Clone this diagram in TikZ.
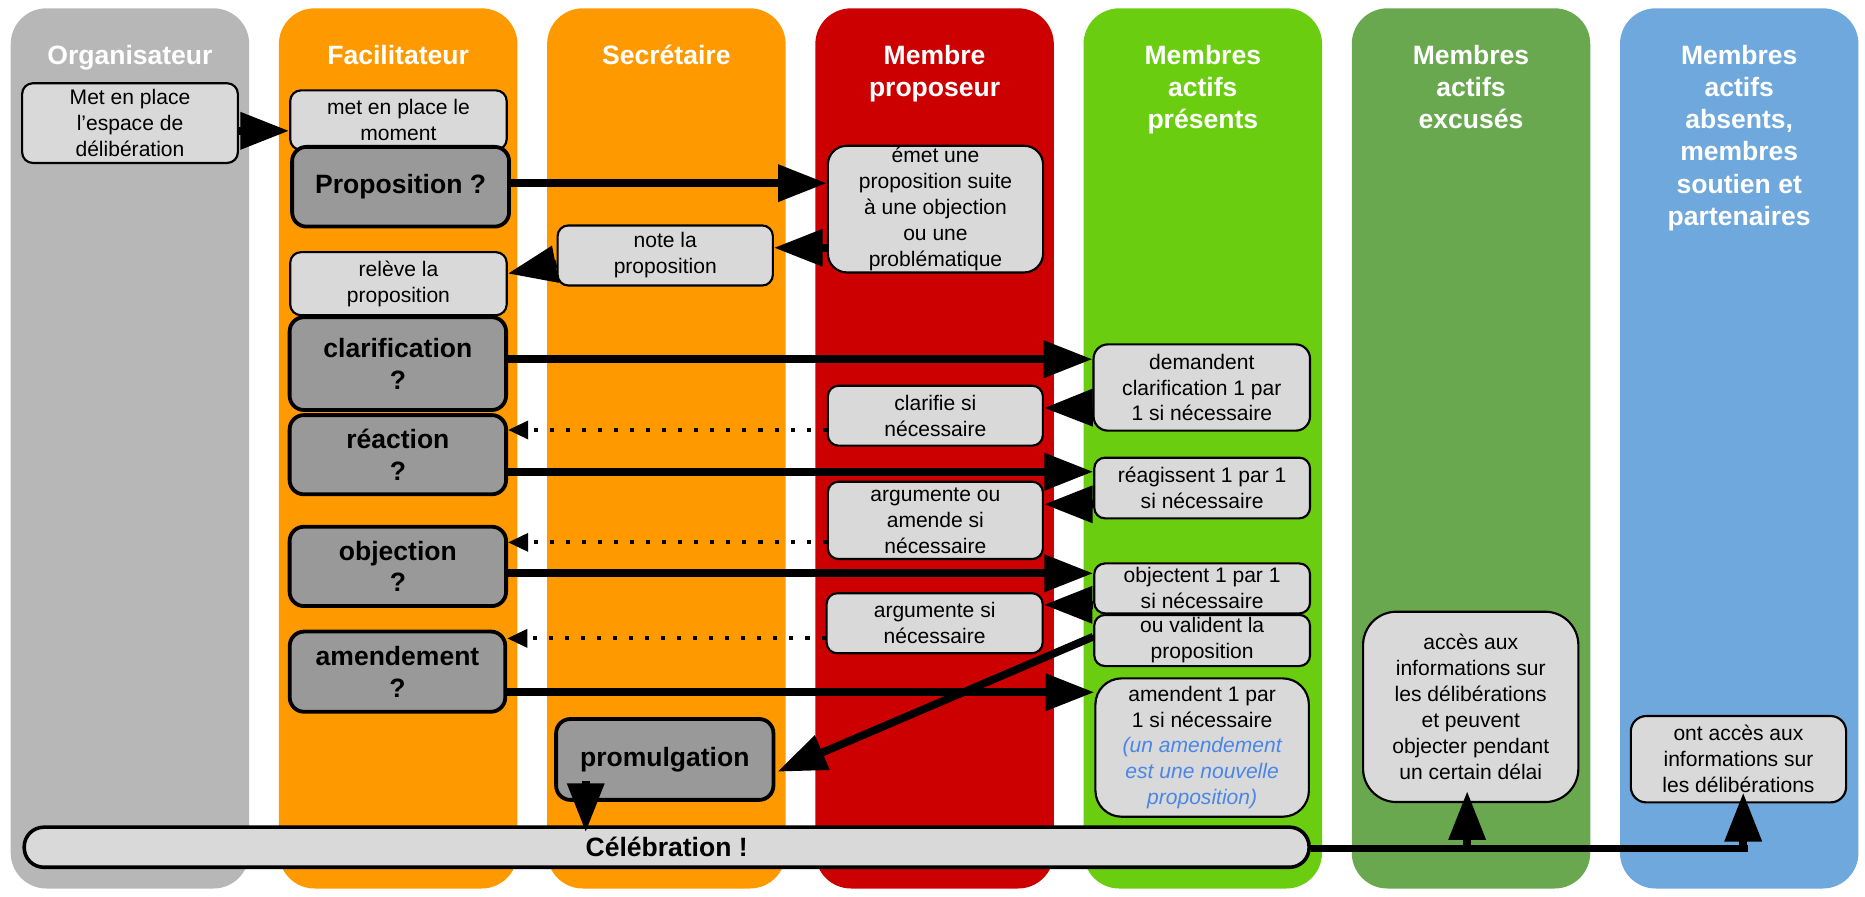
\documentclass[tikz,border=0pt]{standalone}
\usepackage{fontspec}
\setmainfont{Liberation Sans}
\usetikzlibrary{arrows.meta,calc}
\definecolor{cgray}{HTML}{B7B7B7}
\definecolor{corange}{HTML}{FF9900}
\definecolor{cred}{HTML}{CC0000}
\definecolor{cgreen}{HTML}{6ACD0F}
\definecolor{cdkgreen}{HTML}{6AA84F}
\definecolor{cblue}{HTML}{6FA8DC}
\definecolor{lightbox}{HTML}{D9D9D9}
\definecolor{darkbox}{HTML}{999999}
\definecolor{bluetxt}{HTML}{4A86E8}
\newcommand{\bluit}[1]{\textcolor{bluetxt}{\itshape #1}}
\begin{document}
\begin{tikzpicture}[x=1pt,y=-1pt,
  lane/.style={rounded corners=30pt, minimum width=200.5pt, minimum height=740pt, inner sep=0pt},
  title/.style={text=white, font=\bfseries\fontsize{22.3}{27}\selectfont, align=center, anchor=north, inner sep=0pt},
  box/.style={draw=black, line width=1.8pt, fill=lightbox, rounded corners=9pt, inner sep=0pt, align=center, font=\fontsize{17.7}{21.8}\selectfont},
  qbox/.style={box, fill=darkbox, line width=3.2pt, rounded corners=12pt, font=\bfseries\fontsize{22.3}{26.6}\selectfont},
  arr/.style={line width=6.5pt, -{Triangle[length=41pt,width=30pt]}},
  dotarr/.style={line width=3.4pt, dash pattern=on 3.4pt off 10.1pt, -{Triangle[length=17pt,width=15pt]}},
  thickline/.style={line width=6.5pt}
]
\useasboundingbox (0,0) rectangle (1568,754);
% lanes
\node[lane, fill=cgray]    (L1) at (109.25,377) {};
\node[lane, fill=corange]  (L2) at (334.75,377) {};
\node[lane, fill=corange]  (L3) at (560.25,377) {};
\node[lane, fill=cred]     (L4) at (785.75,377) {};
\node[lane, fill=cgreen]   (L5) at (1011.25,377) {};
\node[lane, fill=cdkgreen] (L6) at (1236.75,377) {};
\node[lane, fill=cblue]    (L7) at (1462.25,377) {};
% titles
\node[title] (T1) at (109.25,38) {Organisateur};
\node[title] (T2) at (334.75,38) {Facilitateur};
\node[title] (T3) at (560.25,38) {Secrétaire};
\node[title] (T4) at (785.75,38) {Membre\\proposeur};
\node[title] (T5) at (1011.25,38) {Membres\\actifs\\présents};
\node[title] (T6) at (1236.75,38) {Membres\\actifs\\excusés};
\node[title] (T7) at (1462.25,38) {Membres\\actifs\\absents,\\membres\\soutien et\\partenaires};
% boxes
\node[box, minimum width=181.4pt, minimum height=67pt] (met) at (109.3,103.5) {Met en place\\l’espace de\\délibération};
\node[box, minimum width=182pt, minimum height=50pt] (moment) at (335,101) {met en place le\\moment};
\node[qbox, minimum width=182.4pt, minimum height=67pt] (prop) at (336.8,157) {Proposition ?};
\node[box, minimum width=182pt, minimum height=53pt] (releve) at (335,238.5) {relève la\\proposition};
\node[qbox, minimum width=182pt, minimum height=78pt] (clar) at (334.5,305.7) {clarification\\?};
\node[qbox, minimum width=182pt, minimum height=66.6pt] (reac) at (334.5,382.3) {réaction\\?};
\node[qbox, minimum width=182pt, minimum height=66.7pt] (obj) at (334.5,476.2) {objection\\?};
\node[qbox, minimum width=181.2pt, minimum height=67.4pt] (amd) at (334.2,564.7) {amendement\\?};
\node[box, minimum width=181pt, minimum height=50.5pt] (note) at (559.3,214.8) {note la\\proposition};
\node[qbox, minimum width=182.7pt, minimum height=68pt] (promul) at (558.9,638.5) {promulgation};
\node[box, minimum width=181pt, minimum height=106.5pt, rounded corners=16pt] (emet) at (786.5,175.8) {émet une\\proposition suite\\à une objection\\ou une\\problématique};
\node[box, minimum width=180.8pt, minimum height=50.4pt] (clarifie) at (786.4,349.5) {clarifie si\\nécessaire};
\node[box, minimum width=180.8pt, minimum height=65pt] (argou) at (786.4,437.5) {argumente ou\\amende si\\nécessaire};
\node[box, minimum width=181.6pt, minimum height=50.5pt] (argsi) at (785.8,524) {argumente si\\nécessaire};
\node[box, minimum width=182pt, minimum height=72.5pt, rounded corners=12pt] (dem) at (1010.4,325.8) {demandent\\clarification 1 par\\1 si nécessaire};
\node[box, minimum width=181.4pt, minimum height=51pt] (reag) at (1010.7,410.3) {réagissent 1 par 1\\si nécessaire};
\node[box, minimum width=181.4pt, minimum height=42pt] (objt) at (1010.7,494.7) {objectent 1 par 1\\si nécessaire};
\node[box, minimum width=181.4pt, minimum height=43pt] (valid) at (1010.7,538.5) {ou valident la\\proposition};
\node[box, minimum width=179.5pt, minimum height=116.3pt, rounded corners=22pt] (amdt) at (1010.7,628.5) {amendent 1 par\\1 si nécessaire\\\bluit{(un amendement}\\\bluit{est une nouvelle}\\\bluit{proposition)}};
\node[box, minimum width=181pt, minimum height=160pt, rounded corners=28pt] (acces) at (1236.5,594.3) {accès aux\\informations sur\\les délibérations\\et peuvent\\objecter pendant\\un certain délai};
\node[box, minimum width=181pt, minimum height=72.6pt, rounded corners=13pt] (ontacc) at (1461.6,638.3) {ont accès aux\\informations sur\\les délibérations};
\node[qbox, fill=lightbox, line width=3pt, rounded corners=16.5pt, minimum width=1080.3pt, minimum height=33.7pt] (celeb) at (560.5,712.3) {Célébration !};
% connectors
\draw[arr] ($(met.east)+(0,6.5)$) -- ($(moment.west)+(0,9)$);
\draw[arr] ($(prop.east)+(0,-3)$) -- ($(emet.west)+(0,-21.8)$);
\draw[arr] ($(emet.west)+(0,32.5)$) -- ($(note.east)+(0,-6.5)$);
\draw[arr] ($(note.west)+(0,7.2)$) -- ($(releve.east)+(0,-8.5)$);
\draw[arr] ($(clar.east)+(0,-3.7)$) -- ($(dem.west)+(0,-23.8)$);
\draw[arr] ($(dem.west)+(0,16.9)$) -- ($(clarifie.east)+(0,-6.5)$);
\draw[dotarr] ($(clarifie.west)+(0,12)$) -- ($(reac.east)+(0,-20.8)$);
\draw[arr] ($(reac.east)+(0,14.3)$) -- ($(reag.west)+(0,-13.7)$);
\draw[arr] ($(reag.west)+(0,13.7)$) -- ($(argou.east)+(0,-13.5)$);
\draw[dotarr] ($(argou.west)+(0,18.5)$) -- ($(obj.east)+(0,-20.2)$);
\draw[arr] ($(obj.east)+(0,5.8)$) -- ($(objt.west)+(0,-12.7)$);
\draw[arr] ($(objt.west)+(0,13.8)$) -- ($(argsi.east)+(0,-15.5)$);
\draw[dotarr] ($(argsi.west)+(0,12.7)$) -- ($(amd.east)+(0,-28)$);
\draw[arr] ($(amd.east)+(0,17.3)$) -- ($(amdt.west)+(0,-46.5)$);
\draw[arr] ($(valid.west)+(0,-3.2)$) -- ($(promul.east)+(1.8,10.3)$);
\draw[arr] ($(promul.south west)+(26.5,-17.6)$) -- ($(promul.south west |- celeb.north)+(26.5,5.6)$);
\coordinate (lend) at ($(ontacc.south |- celeb.east)+(8.4,1)$);
\draw[thickline] ($(celeb.east)+(0,1)$) -- (lend);
\draw[arr] ($(acces.south |- celeb.east)+(-3,1)$) -- ($(acces.south)+(-3,-10)$);
\draw[arr] ($(ontacc.south |- celeb.east)+(4,1)$) -- ($(ontacc.south)+(4,-9)$);
\end{tikzpicture}
\end{document}
